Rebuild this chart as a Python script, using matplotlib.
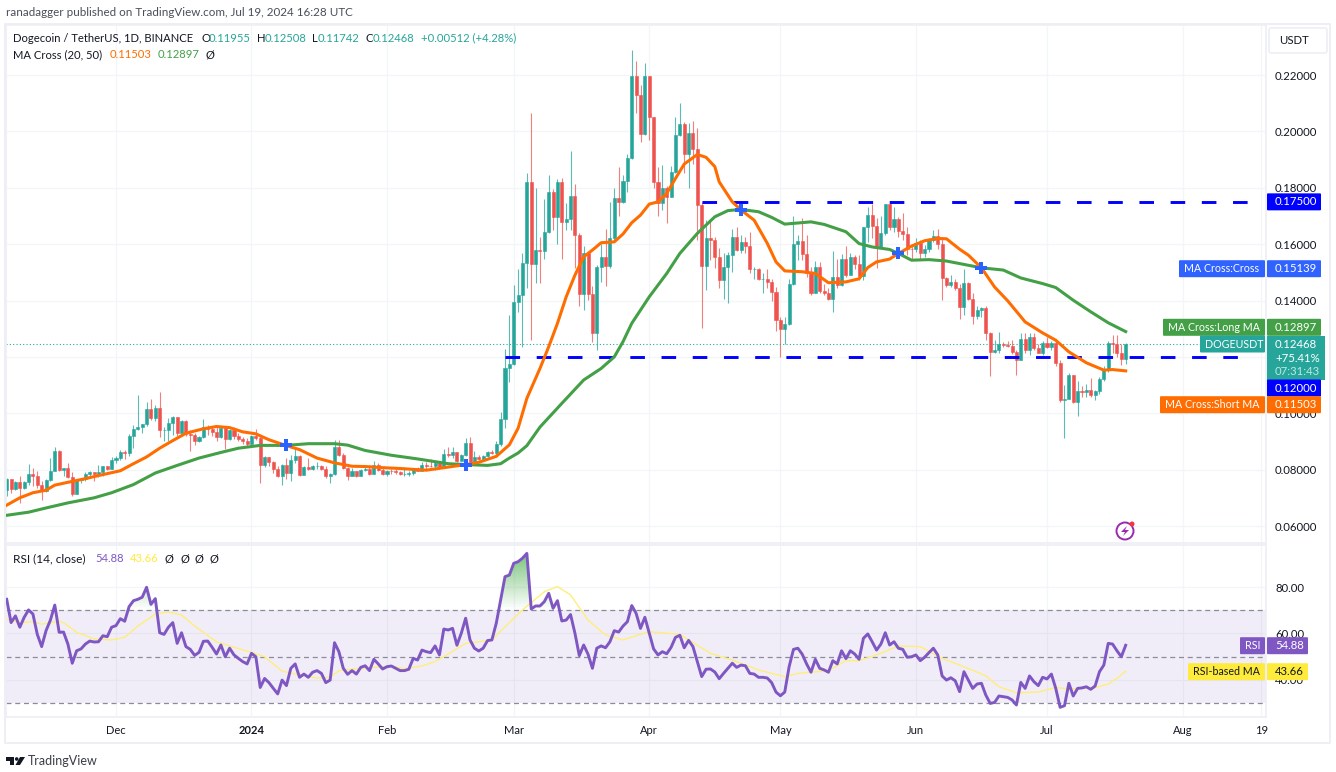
#!/usr/bin/env python3
# -*- coding: utf-8 -*-
"""DOGE/USDT daily chart with MA cross and RSI panes, TradingView look."""

import numpy as np
import pandas as pd
import matplotlib
matplotlib.use("Agg")
import matplotlib.pyplot as plt
import matplotlib.dates as mdates
from matplotlib.patches import FancyBboxPatch, Circle, Polygon, Rectangle
from matplotlib.path import Path

plt.rcParams["font.family"] = ["Lato", "DejaVu Sans"]

start_date = "2023-11-06"
end_date = "2024-07-19"

first_open = 0.0729
closes = [
    .0765, .0732, .0755, .0735, .0755, .0786, .0776, .0747, .0724, .0762, .0796, .0865, .0798, .0805, .0774, .0712,
    .0762, .0765, .0785, .0791, .0786, .0791, .0812, .0802, .0835, .0841, .0861, .0858, .0921, .0945, .0951, .0961,
    .1015, .0982, .1018, .0941, .0941, .0965, .0986, .0929, .0973, .0926, .0923, .0900, .0915, .0951, .0943, .0935,
    .0914, .0947, .0909, .0939, .0920, .0908, .0900, .0892, .0920, .0912, .0818, .0845, .0826, .0804, .0779, .0818,
    .0788, .0833, .0849, .0782, .0809, .0802, .0814, .0814, .0802, .0776, .0786, .0880, .0853, .0806, .0779, .0794,
    .0776, .0800, .0804, .0786, .0815, .0800, .0786, .0796, .0794, .0791, .0785, .0786, .0788, .0802, .0796, .0818,
    .0814, .0812, .0824, .0809, .0855, .0853, .0861, .0829, .0853, .0896, .0826, .0845, .0838, .0849, .0862, .0859,
    .0892, .0979, .1159, .1174, .1393, .1419, .1534, .1819, .1529, .1579, .1577, .1644, .1784, .1697, .1819, .1679,
    .1689, .1772, .1632, .1422, .1567, .1423, .1286, .1520, .1555, .1523, .1620, .1765, .1748, .1824, .1907, .2198,
    .2129, .1989, .2198, .2050, .1821, .1745, .1798, .1768, .1857, .1987, .2026, .1920, .1993, .1936, .1739, .1522,
    .1620, .1614, .1555, .1472, .1520, .1561, .1626, .1579, .1609, .1594, .1510, .1513, .1477, .1477, .1466, .1431,
    .1332, .1298, .1316, .1458, .1599, .1611, .1564, .1496, .1427, .1519, .1434, .1427, .1407, .1484, .1454, .1549,
    .1492, .1553, .1529, .1486, .1659, .1703, .1664, .1590, .1638, .1742, .1659, .1689, .1647, .1635, .1584, .1581,
    .1605, .1569, .1582, .1614, .1628, .1600, .1480, .1454, .1466, .1446, .1377, .1463, .1405, .1344, .1366, .1374,
    .1285, .1218, .1224, .1245, .1243, .1238, .1217, .1188, .1262, .1224, .1269, .1230, .1214, .1250, .1235, .1251,
    .1180, .1046, .1052, .1135, .1040, .1079, .1076, .1082, .1064, .1079, .1123, .1153, .1251, .1245, .1214, .1194,
    .1247,
]
highs = [
    .0771, .0767, .0759, .0779, .0759, .0821, .0806, .0794, .0759, .0765, .0841, .0880, .0871, .0806, .0824, .0791,
    .0765, .0767, .0791, .0794, .0791, .0816, .0814, .0814, .0845, .0847, .0868, .0868, .0926, .0959, .1065, .0962,
    .1041, .1049, .1029, .1074, .0951, .0982, .0991, .0986, .0976, .0976, .0941, .0929, .0918, .0981, .0959, .0955,
    .0951, .0955, .0951, .0943, .0951, .0929, .0915, .0912, .0923, .0943, .0918, .0847, .0845, .0829, .0812, .0821,
    .0841, .0853, .0882, .0853, .0814, .0841, .0818, .0826, .0818, .0814, .0788, .0906, .0906, .0859, .0809, .0806,
    .0794, .0802, .0808, .0818, .0829, .0824, .0806, .0800, .0802, .0802, .0794, .0802, .0794, .0806, .0809, .0826,
    .0826, .0838, .0829, .0826, .0873, .0882, .0882, .0861, .0856, .0911, .0915, .0865, .0853, .0853, .0866, .0868,
    .0900, .1006, .1229, .1348, .1455, .1510, .1567, .1851, .2064, .1798, .1624, .1759, .1847, .1795, .1830, .1836,
    .1745, .1930, .1813, .1638, .1593, .1573, .1451, .1526, .1600, .1652, .1750, .1798, .1872, .1845, .1920, .2289,
    .2250, .2165, .2241, .2198, .2050, .1872, .1881, .1806, .1877, .2050, .2099, .2034, .2028, .2037, .2011, .1748,
    .1685, .1688, .1624, .1585, .1567, .1573, .1652, .1659, .1632, .1626, .1644, .1520, .1517, .1496, .1510, .1478,
    .1448, .1340, .1342, .1478, .1699, .1632, .1691, .1632, .1519, .1541, .1537, .1460, .1443, .1576, .1549, .1564,
    .1593, .1567, .1561, .1561, .1661, .1732, .1742, .1691, .1699, .1744, .1754, .1732, .1697, .1709, .1661, .1602,
    .1620, .1614, .1596, .1620, .1650, .1655, .1626, .1484, .1490, .1476, .1460, .1510, .1466, .1425, .1380, .1377,
    .1380, .1289, .1259, .1289, .1253, .1257, .1259, .1226, .1285, .1285, .1283, .1283, .1247, .1257, .1269, .1257,
    .1257, .1188, .1099, .1143, .1135, .1114, .1096, .1105, .1125, .1084, .1127, .1167, .1257, .1277, .1277, .1247,
    .1251,
]
lows = [
    .0706, .0718, .0729, .0682, .0733, .0747, .0741, .0735, .0692, .0720, .0759, .0794, .0794, .0776, .0771, .0708,
    .0715, .0753, .0760, .0776, .0759, .0774, .0779, .0798, .0802, .0824, .0835, .0838, .0849, .0876, .0939, .0929,
    .0955, .0976, .0971, .0914, .0900, .0900, .0923, .0920, .0918, .0920, .0867, .0888, .0898, .0911, .0923, .0918,
    .0903, .0912, .0873, .0906, .0908, .0900, .0892, .0882, .0888, .0906, .0753, .0809, .0812, .0788, .0774, .0744,
    .0767, .0759, .0824, .0779, .0794, .0798, .0798, .0802, .0800, .0771, .0751, .0782, .0847, .0802, .0762, .0776,
    .0774, .0776, .0794, .0782, .0785, .0794, .0782, .0776, .0786, .0786, .0782, .0776, .0779, .0782, .0794, .0798,
    .0802, .0809, .0798, .0802, .0806, .0845, .0841, .0826, .0833, .0849, .0821, .0829, .0833, .0835, .0844, .0855,
    .0853, .0885, .0947, .1112, .1170, .1360, .1236, .1443, .1260, .1463, .1461, .1549, .1640, .1650, .1600, .1549,
    .1650, .1650, .1514, .1380, .1366, .1401, .1254, .1226, .1467, .1451, .1517, .1614, .1700, .1745, .1786, .1901,
    .2066, .1963, .1987, .1969, .1798, .1700, .1721, .1674, .1766, .1853, .1984, .1853, .1800, .1886, .1614, .1301,
    .1439, .1543, .1514, .1443, .1407, .1392, .1502, .1577, .1567, .1567, .1496, .1475, .1472, .1425, .1445, .1399,
    .1292, .1200, .1244, .1312, .1454, .1543, .1543, .1484, .1419, .1425, .1425, .1419, .1401, .1360, .1443, .1451,
    .1484, .1490, .1513, .1474, .1474, .1608, .1620, .1517, .1590, .1632, .1650, .1644, .1626, .1614, .1561, .1543,
    .1573, .1543, .1555, .1573, .1608, .1584, .1401, .1448, .1448, .1437, .1336, .1348, .1401, .1316, .1336, .1342,
    .1259, .1133, .1214, .1214, .1235, .1235, .1209, .1137, .1188, .1212, .1206, .1224, .1212, .1206, .1230, .1224,
    .1167, .1040, .0913, .1049, .1037, .0989, .1058, .1058, .1058, .1046, .1070, .1115, .1147, .1212, .1200, .1170,
    .1174,
]

ma20_days = [
    0, 3, 6, 9, 11, 14, 18, 21, 26, 29, 32, 35, 38, 41, 45, 48, 51, 54, 57, 60, 64, 67, 71, 75, 79, 82, 86, 90, 94, 96,
    101, 105, 108, 112, 115, 117, 119, 122, 124, 126, 128, 130, 132, 134, 136, 139, 141, 143, 145, 147, 149, 151, 153,
    155, 158, 160, 162, 163, 166, 168, 171, 174, 176, 178, 182, 185, 188, 192, 195, 197, 199, 202, 204, 207, 210, 213,
    215, 218, 220, 223, 226, 229, 233, 237, 240, 243, 247, 251, 253, 256,
]
ma20_values = [
    .0674, .0700, .0718, .0727, .0745, .0755, .0768, .0779, .0796, .0821, .0845, .0876, .0903, .0929, .0945, .0953,
    .0949, .0934, .0927, .0906, .0885, .0871, .0841, .0824, .0812, .0811, .0807, .0804, .0800, .0798, .0809, .0818,
    .0826, .0847, .0888, .0947, .1053, .1159, .1236, .1319, .1413, .1490, .1555, .1579, .1605, .1608, .1636, .1676,
    .1703, .1742, .1750, .1780, .1833, .1884, .1918, .1908, .1875, .1821, .1750, .1721, .1685, .1603, .1537, .1505,
    .1502, .1496, .1463, .1466, .1477, .1517, .1537, .1547, .1567, .1593, .1612, .1620, .1619, .1582, .1561, .1516,
    .1448, .1399, .1324, .1285, .1259, .1218, .1179, .1153, .1155, .11503,
]
ma50_days = [
    0, 5, 9, 14, 20, 24, 29, 34, 39, 44, 49, 53, 58, 64, 69, 75, 78, 82, 88, 94, 101, 105, 110, 113, 115, 117, 119, 122,
    127, 132, 136, 139, 141, 143, 147, 151, 154, 158, 162, 165, 168, 172, 175, 178, 184, 187, 192, 195, 198, 202, 204,
    207, 211, 215, 219, 223, 228, 232, 237, 240, 244, 248, 252, 256,
]
ma50_values = [
    .0638, .0649, .0664, .0682, .0700, .0718, .0747, .0788, .0815, .0841, .0861, .0876, .0886, .0886, .0892, .0892,
    .0887, .0868, .0851, .0838, .0821, .0818, .0815, .0821, .0841, .0859, .0885, .0951, .1035, .1118, .1159, .1200,
    .1254, .1319, .1413, .1496, .1567, .1638, .1697, .1719, .1723, .1715, .1695, .1671, .1679, .1670, .1644, .1602,
    .1590, .1581, .1567, .1543, .1545, .1540, .1528, .1516, .1508, .1480, .1460, .1446, .1401, .1360, .1321, .12897,
]
cross_days = [64, 105, 168, 204, 223]
cross_values = [.0888, .0818, .1722, .1567, .1516]

level_high = 0.175
level_low = 0.12
level_high_span = ["2024-04-13", "2024-08-17"]
level_low_span = ["2024-02-28", "2024-08-17"]
last_price = 0.12468

price_ticks = [.06, .08, .10, .12, .14, .16, .18, .20, .22]
rsi_ticks = [40, 60, 80]
month_ticks = ["2023-12-01", "2024-01-01", "2024-02-01", "2024-03-01", "2024-04-01", "2024-05-01", "2024-06-01",
               "2024-07-01", "2024-08-01", "2024-08-19"]
month_labels = ["Dec", "2024", "Feb", "Mar", "Apr", "May", "Jun", "Jul", "Aug", "19"]

rsi_values = [
    74.8, 64.7, 67.6, 62.7, 67.0, 70.2, 68.4, 59.6, 54.3, 61.2, 65.8, 72.3, 60.5, 60.6, 55.4, 47.1, 52.5, 53.3, 55.4,
    56.7, 56.3, 56.4, 59.0, 58.6, 62.7, 63.4, 66.4, 65.3, 71.6, 74.2, 74.8, 75.7, 80.0, 72.6, 75.1, 60.3, 59.6, 62.7,
    64.7, 55.7, 60.3, 54.3, 53.1, 50.5, 51.8, 56.6, 56.7, 54.0, 51.1, 55.0, 49.9, 53.6, 50.7, 49.2, 47.8, 46.8, 51.4,
    49.9, 36.6, 40.5, 38.7, 36.2, 33.8, 39.8, 37.4, 44.9, 46.8, 41.0, 42.4, 41.0, 43.2, 43.9, 42.7, 38.7, 39.8, 56.0,
    52.1, 44.9, 42.3, 43.9, 42.4, 45.3, 46.0, 43.9, 48.8, 46.8, 44.6, 45.6, 45.9, 44.9, 43.9, 43.9, 44.5, 49.2, 48.5,
    52.8, 52.1, 51.7, 54.6, 50.7, 61.9, 61.5, 62.2, 54.9, 60.1, 66.6, 57.2, 53.6, 52.4, 53.6, 56.9, 57.2, 64.4, 74.5,
    84.6, 85.3, 90.4, 91.1, 92.6, 94.7, 70.6, 71.9, 71.9, 73.8, 77.4, 70.9, 74.2, 65.4, 65.8, 68.2, 60.1, 50.4, 55.0,
    51.0, 44.9, 53.6, 54.6, 53.8, 56.4, 61.2, 60.6, 63.2, 65.1, 72.1, 68.7, 62.2, 67.0, 60.1, 53.3, 50.7, 52.1, 51.2,
    54.0, 58.3, 59.2, 53.8, 57.0, 54.3, 47.8, 41.3, 44.5, 44.6, 43.3, 40.4, 42.7, 44.9, 47.1, 45.3, 46.3, 46.0, 42.7,
    42.4, 41.0, 41.0, 40.7, 38.7, 34.6, 33.0, 34.6, 45.6, 53.1, 53.6, 51.0, 46.8, 43.2, 48.8, 44.9, 44.2, 43.2, 48.2,
    46.8, 52.5, 49.1, 52.5, 51.1, 48.8, 57.9, 59.8, 56.4, 52.8, 55.4, 60.3, 55.0, 56.4, 53.6, 53.1, 49.7, 49.9, 50.7,
    48.2, 49.7, 51.7, 53.6, 50.7, 41.6, 39.8, 40.8, 39.5, 34.8, 43.4, 39.8, 36.2, 38.1, 38.4, 33.3, 29.7, 30.1, 32.9,
    32.6, 32.3, 31.2, 29.0, 38.8, 36.2, 41.6, 39.1, 37.4, 41.0, 40.3, 42.4, 36.2, 28.0, 28.7, 38.4, 32.9, 36.2, 36.4,
    36.9, 35.8, 37.2, 43.4, 46.3, 55.7, 55.4, 52.5, 49.9, 54.88,
]
rsi_ma_days = [
    0, 3, 6, 8, 12, 13, 16, 20, 24, 27, 30, 34, 37, 40, 43, 48, 52, 56, 59, 63, 67, 71, 74, 76, 79, 84, 88, 91, 95, 98,
    101, 105, 111, 114, 118, 123, 126, 129, 133, 137, 141, 147, 154, 161, 166, 172, 178, 181, 188, 192, 195, 200, 204,
    209, 214, 218, 224, 227, 231, 236, 240, 243, 249, 252, 254, 256,
]
rsi_ma_values = [
    66.1, 64.7, 65.1, 64.0, 65.3, 64.7, 60.5, 57.6, 57.2, 58.3, 63.2, 68.4, 69.3, 68.0, 63.2, 56.4, 54.0, 51.8, 49.9,
    43.7, 42.0, 40.7, 41.0, 43.9, 44.5, 45.3, 45.9, 44.7, 45.9, 47.8, 51.1, 55.7, 57.2, 62.9, 70.2, 78.1, 80.3, 76.7,
    65.8, 59.3, 57.2, 60.8, 59.6, 51.4, 48.5, 44.2, 41.3, 42.7, 43.9, 48.2, 48.2, 51.4, 54.6, 54.3, 49.2, 46.3, 41.7,
    36.9, 34.3, 34.6, 36.6, 35.9, 36.5, 38.1, 40.5, 43.66,
]

UP = "#26A69A"
DOWN = "#EF5350"
ORANGE = "#FF6D00"
GREEN = "#43A047"
CROSS = "#2962FF"
BLUE = "#0000FF"
PURPLE = "#7E57C2"
YELLOW = "#FFEB3B"
INK = "#131722"
GRID = "#F4F5F8"
FRAME = "#EDEFF5"
W, H = 1336, 772


def pane(top, bottom):
    return [6 / W, 1 - bottom / H, 1260 / W, (bottom - top) / H]


def pill(ov, x0, x1, yc, color, h=17):
    ov.add_patch(FancyBboxPatch((x0 + 1, yc - h / 2 + 1), x1 - x0 - 2, h - 2, boxstyle="round,pad=1",
                                fc=color, ec="none", zorder=5))


def price_label(ov, yc, value, color, name=None, left=None, right=1321, fg="white"):
    # value box in the axis column, with an optional name box to its left
    pill(ov, 1267, right, yc, color)
    ov.text(1275, yc, value, color=fg, fontsize=8.2, va="center", ha="left", zorder=6)
    if name:
        pill(ov, left, 1265, yc, color)
        ov.text(left + 5, yc, name, color=fg, fontsize=7.7, va="center", ha="left", zorder=6)


dates = pd.date_range(start_date, end_date, freq="D")
x = mdates.date2num(dates)
opens = np.array([first_open] + closes[:-1])
closes = np.array(closes)
highs = np.array(highs)
lows = np.array(lows)
rsi_values = np.array(rsi_values)

fig = plt.figure(figsize=(W / 100, H / 100), dpi=100, facecolor="white")
ax_p = fig.add_axes(pane(25, 543))
ax_r = fig.add_axes(pane(545, 717))

xlim = (x[0] - 0.16, x[0] + 288.1)

# Price pane
colors = np.where(closes >= opens, UP, DOWN)
ax_p.vlines(x, lows, highs, colors=colors, linewidth=0.8, alpha=0.75, zorder=2)
ax_p.bar(x, np.abs(closes - opens), bottom=np.minimum(opens, closes), width=0.7, color=colors,
         edgecolor=colors, linewidth=0.4, zorder=2.5)
ax_p.plot(mdates.datestr2num(level_high_span), [level_high] * 2, color=BLUE, lw=2.1, dashes=(5, 5.7), zorder=3)
ax_p.plot(mdates.datestr2num(level_low_span), [level_low] * 2, color=BLUE, lw=2.1, dashes=(5, 5.7), zorder=3)
ax_p.plot([xlim[0], xlim[1]], [last_price] * 2, color=UP, lw=0.8, ls=(0, (1, 2)), zorder=2)
ax_p.plot(x[ma50_days], ma50_values, color=GREEN, lw=2.2, solid_joinstyle="round", zorder=4)
ax_p.plot(x[ma20_days], ma20_values, color=ORANGE, lw=2.2, solid_joinstyle="round", zorder=4.5)
ax_p.plot(x[cross_days], cross_values, ls="none", marker="P", ms=9, mfc=CROSS, mec=CROSS, mew=0, zorder=5)
ax_p.set_ylim(0.05397, 0.23774)
ax_p.set_yticks(price_ticks)
ax_p.yaxis.set_major_formatter(lambda v, pos: f"{v:.5f}")

# RSI pane
ax_r.axhspan(30, 70, color=PURPLE, alpha=0.1, lw=0, zorder=1)
for level in (70, 50, 30):
    ax_r.axhline(level, color="#8A8D97", lw=0.9, dashes=(4, 3), zorder=1.5)
shade = np.zeros((64, 1, 4))
shade[..., :3] = matplotlib.colors.to_rgb("#4CAF50")
shade[:, 0, 3] = np.linspace(0.85, 0, 64)
over = ax_r.fill_between(x, 70, rsi_values, where=rsi_values > 70, interpolate=True, color="none", lw=0)
img = ax_r.imshow(shade, extent=(xlim[0], xlim[1], 70, 98), aspect="auto", zorder=1.8, interpolation="bilinear")
img.set_clip_path(Path.make_compound_path(*over.get_paths()), transform=ax_r.transData)
ax_r.plot(x[rsi_ma_days], rsi_ma_values, color="#FFEE7A", lw=1.0, zorder=2)
ax_r.plot(x, rsi_values, color=PURPLE, lw=2.1, solid_joinstyle="round", zorder=3)
ax_r.set_ylim(23.8, 98.33)
ax_r.set_yticks(rsi_ticks)
ax_r.yaxis.set_major_formatter(lambda v, pos: f"{v:.2f}")

month_x = mdates.datestr2num(month_ticks)
for ax in (ax_p, ax_r):
    ax.set_xlim(xlim)
    ax.set_xticks(month_x)
    ax.grid(True, color=GRID, lw=1.0, zorder=0)
    ax.set_axisbelow(True)
    ax.yaxis.tick_right()
    ax.tick_params(axis="y", length=0, pad=6.5, labelsize=8.2, labelcolor=INK)
    for spine in ax.spines.values():
        spine.set_color(FRAME)
        spine.set_linewidth(1.2)
ax_p.tick_params(axis="x", length=0, labelbottom=False)
ax_r.set_xticklabels(month_labels)
ax_r.tick_params(axis="x", length=0, pad=6, labelsize=8, labelcolor=INK)
ax_r.get_xticklabels()[1].set_fontweight("bold")

# Overlay in pixel coordinates: frame, legends and axis boxes
ov = fig.add_axes([0, 0, 1, 1], facecolor="none")
ov.set_xlim(0, W)
ov.set_ylim(H, 0)
ov.axis("off")
ov.plot([5, 5, 1330, 1330, 5], [743, 24, 24, 743, 743], color=FRAME, lw=1.4, zorder=1)

ov.text(6, 12, "ranadagger published on TradingView.com, Jul 19, 2024 16:28 UTC", color="#4A4E5A", fontsize=8.4, va="center")
ov.text(13, 38, "Dogecoin / TetherUS, 1D, BINANCE", color=INK, fontsize=8.1, va="center")
for lx, letter, vx, val in [(201, "O", 209, "0.11955"), (257, "H", 265, "0.12508"),
                            (312, "L", 318, "0.11742"), (366, "C", 373, "0.12468")]:
    ov.text(lx, 38, letter, color=INK, fontsize=8.1, va="center")
    ov.text(vx, 38, val, color=UP, fontsize=8.1, va="center")
ov.text(421, 38, "+0.00512 (+4.28%)", color=UP, fontsize=8.1, va="center")
ov.text(13, 55, "MA Cross (20, 50)", color=INK, fontsize=8.1, va="center")
ov.text(110, 55, "0.11503", color=ORANGE, fontsize=8.1, va="center")
ov.text(158, 55, "0.12897", color=GREEN, fontsize=8.1, va="center")
ov.text(210, 55, "Ø", color=INK, fontsize=8, va="center", ha="center")
ov.text(13, 559, "RSI (14, close)", color=INK, fontsize=8.6, va="center")
ov.text(95, 559, "54.88", color=PURPLE, fontsize=8.1, va="center")
ov.text(130, 559, "43.66", color=YELLOW, fontsize=8.1, va="center")
for sx in (169, 185, 199, 214):
    ov.text(sx, 559, "Ø", color=INK, fontsize=8, va="center", ha="center")

ov.add_patch(FancyBboxPatch((1271, 30), 54, 21, boxstyle="round,pad=2", fc="white", ec=FRAME, lw=1.2, zorder=5))
ov.text(1279, 41, "USDT", color=INK, fontsize=8.2, va="center", zorder=6)


def price_y(v):
    return 75 + (0.22 - v) * 2819


price_label(ov, price_y(level_high), "0.17500", BLUE)
price_label(ov, 268.7, "0.15139", "#2F62FF", "MA Cross:Cross", 1179)
price_label(ov, 327.3, "0.12897", GREEN, "MA Cross:Long MA", 1163)
pill(ov, 1200, 1265, 344, UP)
ov.text(1205, 344, "DOGEUSDT", color="white", fontsize=7.7, va="center", zorder=6)
ov.add_patch(Rectangle((1267, 336), 58, 44, fc=UP, ec="none", zorder=5))
ov.text(1275, 344.5, "0.12468", color="white", fontsize=8.2, va="center", zorder=6)
ov.text(1275, 358.5, "+75.41%", color="white", fontsize=8.2, va="center", zorder=6)
ov.text(1275, 371.5, "07:31:43", color="#BFE6E2", fontsize=8.2, va="center", zorder=6)
price_label(ov, 388, "0.12000", BLUE)
price_label(ov, 404.7, "0.11503", ORANGE, "MA Cross:Short MA", 1160)
price_label(ov, 645.7, "54.88", PURPLE, "RSI", 1240, right=1308)
price_label(ov, 671.7, "43.66", YELLOW, "RSI-based MA", 1188, right=1308, fg=INK)

# Bolt badge
ov.add_patch(Circle((1125, 531), 8.5, fc="white", ec="#9C27B0", lw=1.4, zorder=5))
ov.add_patch(Polygon([(1127, 526), (1121, 532), (1125, 532), (1123, 536), (1129, 530), (1125, 530)],
                     fc="#9C27B0", ec="none", zorder=6))
ov.add_patch(Circle((1132, 524), 2.5, fc="#F23645", ec="none", zorder=7))

# TradingView logo
ov.add_patch(Polygon([(6, 757), (14, 757), (14, 765), (10, 765), (10, 760.5), (6, 760.5)], fc=INK, ec="none"))
ov.add_patch(Circle((16.7, 759), 1.8, fc=INK, ec="none"))
ov.add_patch(Polygon([(20, 757), (25, 757), (20, 765), (15.5, 765)], fc=INK, ec="none"))
ov.text(28, 761, "TradingView", color="#3A3D47", fontsize=9, va="center")

fig.savefig("out.png", dpi=100, facecolor="white")
